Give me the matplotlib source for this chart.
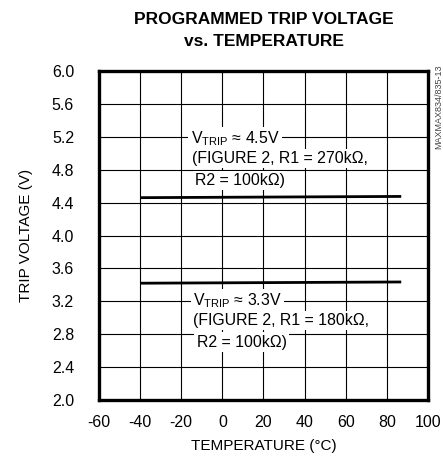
import matplotlib
matplotlib.use("Agg")
import matplotlib.pyplot as plt

############### Data ###############
temp_c = [-40, 87]
vtrip_45 = [4.46, 4.475]
vtrip_33 = [3.42, 3.435]

x_ticks = [-60, -40, -20, 0, 20, 40, 60, 80, 100]
y_ticks = [2.0, 2.4, 2.8, 3.2, 3.6, 4.0, 4.4, 4.8, 5.2, 5.6, 6.0]

plt.rcParams["font.family"] = ["Liberation Sans", "DejaVu Sans"]
plt.rcParams["mathtext.fontset"] = "custom"
plt.rcParams["mathtext.rm"] = "Liberation Sans"

############### Plot ###############
fig = plt.figure(figsize=(4.43, 4.61), dpi=100)
ax = fig.add_axes([0.2235, 0.1323, 0.7425, 0.7137])

ax.plot(temp_c, vtrip_45, color="black", lw=2.0, solid_capstyle="butt", zorder=3)
ax.plot(temp_c, vtrip_33, color="black", lw=2.0, solid_capstyle="butt", zorder=3)

ax.set_xlim(-60, 100)
ax.set_ylim(2.0, 6.0)
ax.set_xticks(x_ticks)
ax.set_yticks(y_ticks)
ax.set_xticklabels([str(t) for t in x_ticks])
ax.set_yticklabels([f"{t:.1f}" for t in y_ticks])
ax.grid(True, color="black", lw=0.8)
ax.set_axisbelow(True)
ax.tick_params(length=0, labelsize=11.5)
ax.tick_params(axis="y", pad=18)
ax.tick_params(axis="x", pad=11)
for sp in ax.spines.values():
    sp.set_linewidth(2.4)

ax.set_xlabel("TEMPERATURE (°C)", fontsize=11, labelpad=6)
ax.set_ylabel("TRIP VOLTAGE (V)", fontsize=11, labelpad=13)

##### annotations with white boxes over the grid
box = dict(facecolor="white", edgecolor="none", pad=1.6)
notes = [
    (-15.4, 5.121, r"V$_\mathregular{TRIP}$ ≈ 4.5V"),
    (-14.9, 4.878, "(FIGURE 2, R1 = 270kΩ,"),
    (-13.3, 4.614, "R2 = 100kΩ)"),
    (-14.4, 3.155, r"V$_\mathregular{TRIP}$ ≈ 3.3V"),
    (-14.1, 2.912, "(FIGURE 2, R1 = 180kΩ,"),
    (-12.5, 2.648, "R2 = 100kΩ)"),
]
for x, y, s in notes:
    ax.text(x, y, s, fontsize=11.4, ha="left", va="baseline", bbox=box, zorder=4)

fig.text(0.596, 0.957, "PROGRAMMED TRIP VOLTAGE", ha="center", va="center",
         fontsize=12.5, fontweight="bold")
fig.text(0.596, 0.909, "vs. TEMPERATURE", ha="center", va="center",
         fontsize=12.5, fontweight="bold")
fig.text(0.990, 0.768, "MAXMAX834/835-13", rotation=90, ha="center", va="center",
         fontsize=6.5, color="#444444")

fig.savefig("out.png", dpi=100)
